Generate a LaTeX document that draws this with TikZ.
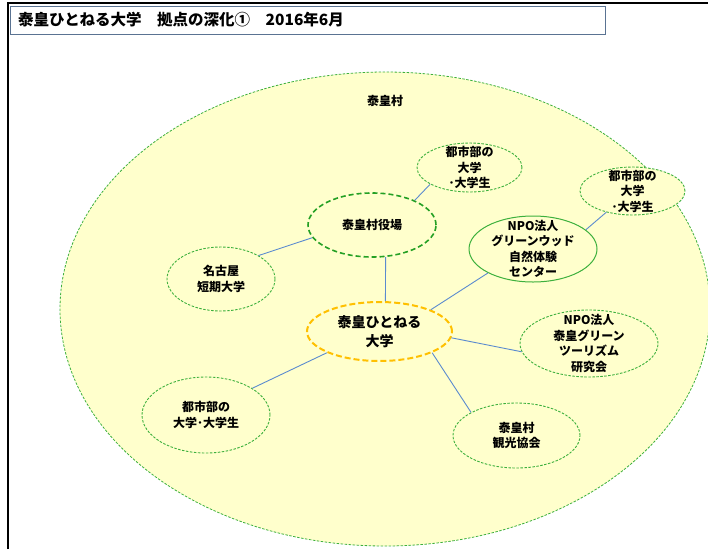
\documentclass[tikz,border=0pt]{standalone}
\usepackage{fontspec}
\setmainfont{Noto Sans CJK JP}
\usetikzlibrary{shapes.geometric}
\definecolor{fillY}{HTML}{FFFFCC}
\definecolor{grn}{HTML}{3DB03D}
\definecolor{dgrn}{HTML}{24A024}
\definecolor{org}{HTML}{FFC000}
\definecolor{lnk}{HTML}{5B8BCF}
\definecolor{tbox}{HTML}{5A7392}
\begin{document}
\begin{tikzpicture}[x=1pt,y=-1pt,
  bub/.style={ellipse, draw=grn, fill=fillY, line width=0.9pt, dash pattern=on 2.5pt off 1.5pt, inner sep=0pt},
  bubsolid/.style={ellipse, draw=grn, fill=fillY, line width=1pt, solid, inner sep=0pt},
  bubthick/.style={ellipse, draw=dgrn, fill=fillY, line width=1.6pt, dash pattern=on 5pt off 3pt, inner sep=0pt},
  bubcore/.style={ellipse, draw=org, fill=fillY, line width=2pt, dash pattern=on 6pt off 3pt, inner sep=0pt},
  txt/.style={align=center, font=\fontsize{12}{15.5}\selectfont\bfseries, inner sep=0pt},
  link/.style={draw=lnk, line width=0.9pt}]
\useasboundingbox (0,0) rectangle (708,549);
\fill[white] (0,0) rectangle (708,549);
% big village ellipse
\node[ellipse, draw=grn, fill=fillY, line width=0.8pt, dash pattern=on 2.5pt off 1.5pt, minimum width=650, minimum height=474, inner sep=0pt] (village) at (385,309) {};
\node[txt] (villagelbl) at (385,101) {泰皇村};
% frame
\draw[black, line width=2pt] (8,549) -- (8,3) -- (708,3);
\node[draw=tbox, fill=white, line width=0.9pt, minimum width=595, minimum height=28, inner sep=0pt, anchor=north west] (titlebox) at (10,6) {};
\node[anchor=west, inner sep=0pt, font=\fontsize{15.5}{18}\selectfont\bfseries] (title) at (18,20) {泰皇ひとねる大学\hspace{1em}拠点の深化①\hspace{1em}2016年6月};
% bubbles
\node[bub, minimum width=105, minimum height=49, label={[txt]center:都市部の\\大学\\･大学生}] (city1) at (469.5,167.5) {};
\node[bubthick, minimum width=128, minimum height=64, label={[txt]center:泰皇村役場}] (yakuba) at (372,225) {};
\node[bub, minimum width=105, minimum height=48, label={[txt]center:都市部の\\大学\\･大学生}] (city2) at (632.5,191) {};
\node[bubsolid, minimum width=128, minimum height=66, label={[txt]center:NPO法人\\グリーンウッド\\自然体験\\センター}] (green) at (533,249) {};
\node[bub, minimum width=108, minimum height=64, label={[txt]center:名古屋\\短期大学}] (nagoya) at (221,279) {};
\node[bubcore, minimum width=145, minimum height=59, label={[align=center, inner sep=0pt, font=\fontsize{14}{19}\selectfont\bfseries]center:泰皇ひとねる\\大学}] (core) at (379.5,331.5) {};
\node[bub, minimum width=138, minimum height=67, label={[txt]center:NPO法人\\泰皇グリーン\\ツーリズム\\研究会}] (tour) at (589,343.5) {};
\node[bub, minimum width=128, minimum height=76, label={[txt]center:都市部の\\大学･大学生}] (city3) at (206,415) {};
\node[bub, minimum width=127, minimum height=65, label={[txt]center:泰皇村\\観光協会}] (kanko) at (516.5,435.5) {};
% links
\draw[link] (yakuba.30) -- (city1.203);
\draw[link] (yakuba.192) -- (nagoya.32);
\draw[link] (yakuba.-67.5) -- (core.79);
\draw[link] (core.23) -- (green.208.5);
\draw[link] (green.20) -- (city2.219.5);
\draw[link] (core.-5) -- (tour.187);
\draw[link] (core.-22) -- (kanko.153);
\draw[link] (core.202) -- (city3.30);
\end{tikzpicture}
\end{document}
